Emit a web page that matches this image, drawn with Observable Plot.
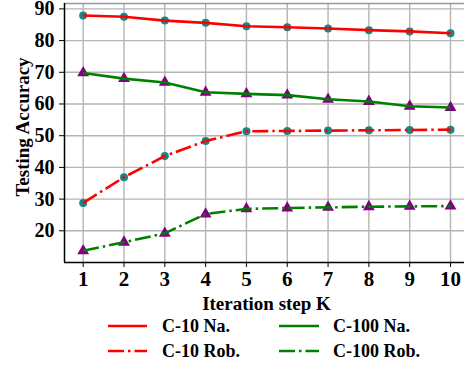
<!DOCTYPE html>
<html>
<head>
<meta charset="utf-8">
<script src="https://cdn.jsdelivr.net/npm/d3@7"></script>
<script src="https://cdn.jsdelivr.net/npm/@observablehq/plot@0.6"></script>
<style>
  body { margin: 0; background: #fff; }
  #wrap { width: 464px; font-family: "Liberation Serif", "Times New Roman", serif; font-weight: bold; }
  #wrap svg { overflow: visible; }
</style>
</head>
<body>
<div id="wrap"></div>
<script>
const K = [1, 2, 3, 4, 5, 6, 7, 8, 9, 10];
const c10Na   = [87.9, 87.5, 86.3, 85.6, 84.5, 84.2, 83.8, 83.3, 82.9, 82.3];
const c100Na  = [69.8, 68.0, 66.8, 63.7, 63.2, 62.8, 61.5, 60.8, 59.3, 58.9];
const c10Rob  = [28.8, 36.9, 43.6, 48.3, 51.4, 51.5, 51.6, 51.7, 51.8, 51.9];
const c100Rob = [13.7, 16.4, 19.2, 25.3, 26.9, 27.2, 27.4, 27.6, 27.7, 27.8];
const yTicks = [20, 30, 40, 50, 60, 70, 80, 90];
const seriesNames = ["C-10 Na.", "C-100 Na.", "C-10 Rob.", "C-100 Rob."];
const seriesVals = [c10Na, c100Na, c10Rob, c100Rob];
const seriesColor = ["#ff0000", "#008000", "#ff0000", "#008000"];
const seriesDash = [null, null, "16,4,2.5,4", "16,4,2.5,4"];
const seriesMarker = ["circle", "triangle", "circle", "triangle"];
const markerFill = {circle: "#1a8585", triangle: "#800080"};
const xLabel = "Iteration step K";
const yLabel = "Testing Accuracy";

const rows = [];
seriesNames.forEach((s, i) => K.forEach((k, j) => rows.push({series: s, k, v: seriesVals[i][j], idx: i})));

const yTop = 91.7;
const lineMarks = seriesNames.map((s, i) => Plot.line(rows.filter(r => r.series === s), {
  x: "k", y: "v", stroke: seriesColor[i], strokeWidth: 2.6,
  strokeDasharray: seriesDash[i] || undefined, strokeLinecap: "butt"
}));
const dotMarks = seriesNames.map((s, i) => Plot.dot(rows.filter(r => r.series === s), {
  x: "k", y: "v", symbol: seriesMarker[i], fill: markerFill[seriesMarker[i]],
  r: seriesMarker[i] === "circle" ? 4 : 4.4, stroke: "none"
}));

const chart = Plot.plot({
  width: 464, height: 316,
  marginLeft: 64, marginRight: 0, marginTop: 3, marginBottom: 54,
  style: {fontFamily: "Liberation Serif, Times New Roman, serif", fontWeight: "bold", background: "#fff", overflow: "visible"},
  x: {domain: [0.542, 10.343]},
  y: {domain: [10, yTop]},
  marks: [
    Plot.gridX(K, {stroke: "#b4b4b4", strokeOpacity: 1, strokeWidth: 1.4}),
    Plot.gridY(yTicks, {stroke: "#b4b4b4", strokeOpacity: 1, strokeWidth: 1.4}),
    Plot.ruleY([yTop], {stroke: "#999", strokeWidth: 1.5}),
    ...dotMarks,
    ...lineMarks,
    Plot.axisX(K, {tickSize: 5, tickPadding: 4, fontSize: 21, label: null, tickFormat: d => String(d), stroke: "#000", color: "#000"}),
    Plot.axisY(yTicks, {tickSize: 5, tickPadding: 5, fontSize: 20, label: null, stroke: "#000", color: "#000"}),
    Plot.ruleX([0.542], {stroke: "#000", strokeWidth: 1.5}),
    Plot.ruleY([10], {stroke: "#000", strokeWidth: 1.5}),
    Plot.text([xLabel], {frameAnchor: "bottom", textAnchor: "middle", dy: 41, dx: 2, lineAnchor: "middle", fontSize: 19, fill: "#000"}),
    Plot.text([yLabel], {frameAnchor: "left", textAnchor: "middle", lineAnchor: "middle", dx: -42, dy: -6, rotate: -90, fontSize: 19, fill: "#000"})
  ]
});
document.getElementById("wrap").appendChild(chart);

// Legend below the chart
const legW = 464, legH = 50;
const leg = d3.select("#wrap").append("svg").attr("width", legW).attr("height", legH).style("display", "block");
const cols = [{x0: 108, x1: 147, tx: 162}, {x0: 279, x1: 319, tx: 333}];
const rowsY = [10, 35];
seriesNames.forEach((name, n) => {
  const c = cols[n % 2], y = rowsY[Math.floor(n / 2)];
  leg.append("line").attr("x1", c.x0).attr("x2", c.x1).attr("y1", y).attr("y2", y)
    .attr("stroke", seriesColor[n]).attr("stroke-width", 2.6)
    .attr("stroke-dasharray", seriesDash[n]);
  leg.append("text").attr("x", c.tx).attr("y", y).attr("dy", "0.35em")
    .attr("font-family", "Liberation Serif, Times New Roman, serif").attr("font-weight", "bold")
    .attr("font-size", 18).attr("fill", "#000").text(name);
});
</script>
</body>
</html>
